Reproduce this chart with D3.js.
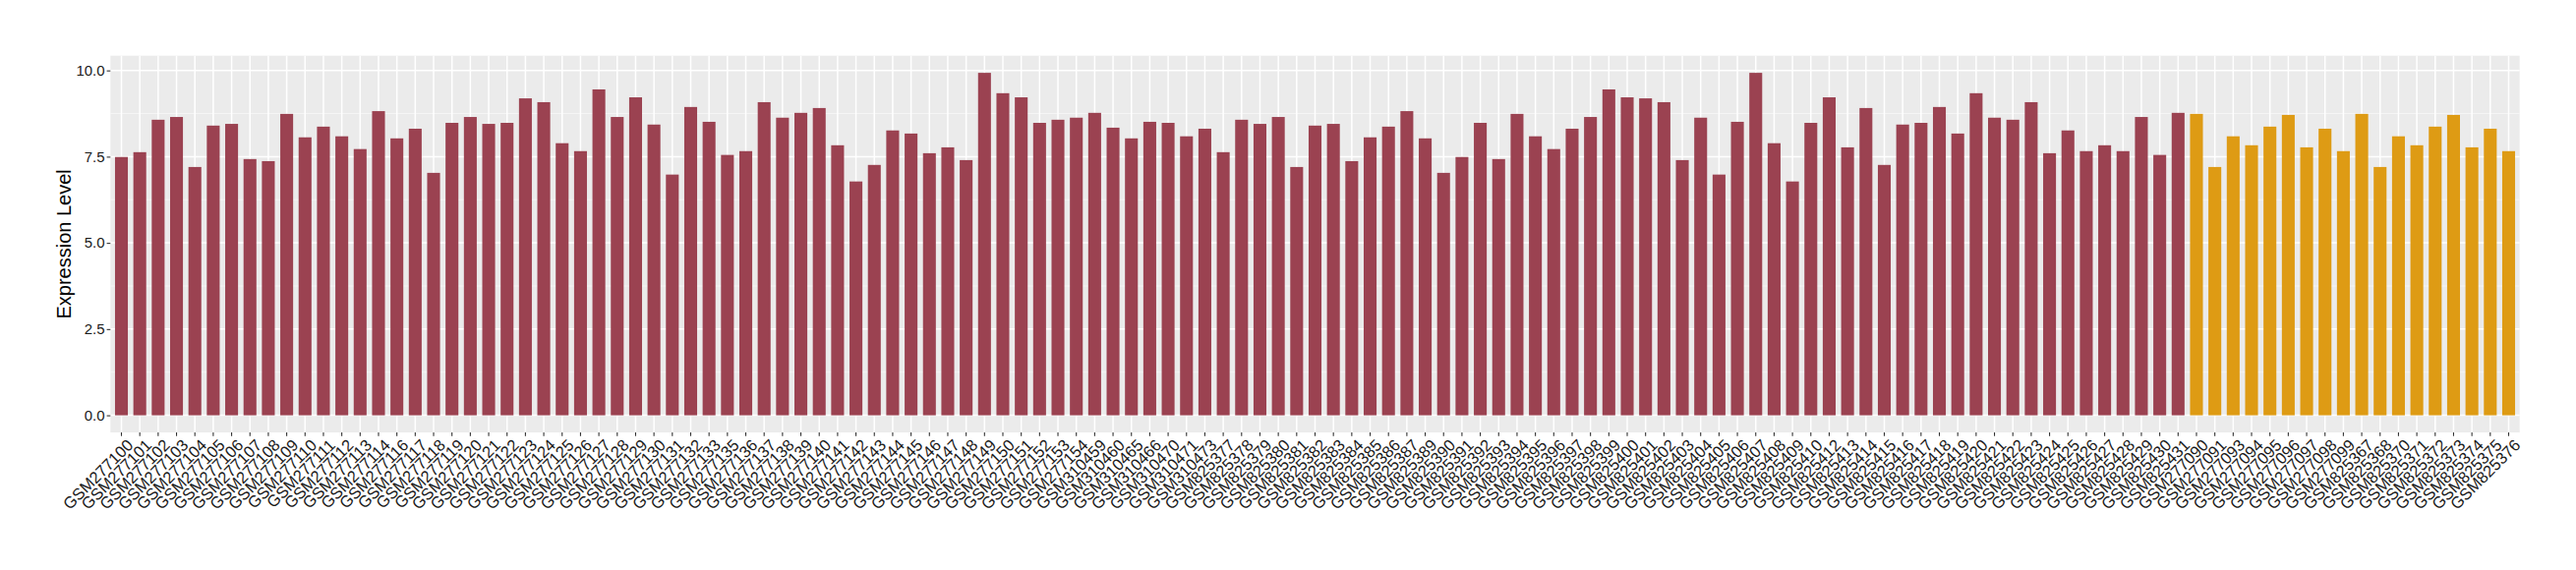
<!DOCTYPE html>
<html>
<head>
<meta charset="utf-8">
<script src="https://cdn.jsdelivr.net/npm/d3@7"></script>
<style>
  html, body { margin: 0; padding: 0; background: #ffffff; }
  svg { display: block; }
  text { font-family: "Liberation Sans", Arial, Helvetica, sans-serif; }
</style>
</head>
<body>
<svg id="chart" width="2620" height="580"></svg>
<script>
// ---- data ----
const samplesA = [
  "GSM277100","GSM277101","GSM277102","GSM277103","GSM277104","GSM277105","GSM277106","GSM277107","GSM277108","GSM277109",
  "GSM277110","GSM277111","GSM277112","GSM277113","GSM277114",
  "GSM277116","GSM277117","GSM277118","GSM277119","GSM277120","GSM277121","GSM277122","GSM277123","GSM277124","GSM277125",
  "GSM277126","GSM277127","GSM277128","GSM277129","GSM277130","GSM277131","GSM277132","GSM277133",
  "GSM277135","GSM277136","GSM277137","GSM277138","GSM277139","GSM277140","GSM277141","GSM277142","GSM277143","GSM277144",
  "GSM277145","GSM277146","GSM277147","GSM277148","GSM277149","GSM277150","GSM277151","GSM277152","GSM277153","GSM277154",
  "GSM310459","GSM310460","GSM310465","GSM310466","GSM310470","GSM310471","GSM310473",
  "GSM825377","GSM825378","GSM825379","GSM825380","GSM825381","GSM825382","GSM825383","GSM825384","GSM825385","GSM825386","GSM825387",
  "GSM825389","GSM825390","GSM825391","GSM825392","GSM825393","GSM825394","GSM825395","GSM825396","GSM825397","GSM825398",
  "GSM825399","GSM825400","GSM825401","GSM825402","GSM825403","GSM825404","GSM825405","GSM825406","GSM825407","GSM825408",
  "GSM825409","GSM825410",
  "GSM825412","GSM825413","GSM825414","GSM825415","GSM825416","GSM825417","GSM825418","GSM825419","GSM825420","GSM825421",
  "GSM825422","GSM825423","GSM825424","GSM825425","GSM825426","GSM825427","GSM825428","GSM825429","GSM825430","GSM825431"
];
const valuesA = [
  7.49,7.63,8.57,8.65,7.20,8.40,8.45,7.43,7.37,8.74,
  8.06,8.37,8.09,7.72,8.82,
  8.03,8.31,7.03,8.48,8.65,8.45,8.48,9.19,9.08,7.89,
  7.66,9.45,8.65,9.22,8.43,6.98,8.94,8.51,
  7.55,7.66,9.08,8.63,8.77,8.91,7.83,6.78,7.26,8.26,
  8.17,7.60,7.77,7.40,9.93,9.34,9.22,8.48,8.57,8.63,
  8.77,8.34,8.03,8.51,8.48,8.09,8.31,
  7.63,8.57,8.45,8.65,7.20,8.40,8.45,7.37,8.06,8.37,8.82,
  8.03,7.03,7.49,8.48,7.43,8.74,8.09,7.72,8.31,8.65,
  9.45,9.22,9.19,9.08,7.40,8.63,6.98,8.51,9.93,7.89,
  6.78,8.48,
  9.22,7.77,8.91,7.26,8.43,8.48,8.94,8.17,9.34,8.63,
  8.57,9.08,7.60,8.26,7.66,7.83,7.66,8.65,7.55,8.77
];
const samplesB = [
  "GSM277090","GSM277091","GSM277093","GSM277094","GSM277095","GSM277096","GSM277097","GSM277098","GSM277099",
  "GSM825367","GSM825368","GSM825370","GSM825371","GSM825372","GSM825373","GSM825374","GSM825375","GSM825376"
];
const valuesB = [
  8.74,7.20,8.09,7.83,8.37,8.71,7.77,8.31,7.66,
  8.74,7.20,8.09,7.83,8.37,8.71,7.77,8.31,7.66
];
const yTicks = [0, 2.5, 5, 7.5, 10];
const yMinorTicks = [1.25, 3.75, 6.25, 8.75];
const yTitle = "Expression Level";
const colorA = "#9B4251";
const colorB = "#DE9B14";

// ---- build ----
const rows = samplesA.map((s, i) => ({ sample: s, value: valuesA[i], color: colorA }))
  .concat(samplesB.map((s, i) => ({ sample: s, value: valuesB[i], color: colorB })));

const svg = d3.select("#chart");
const panel = { left: 112.3, right: 2562.7, top: 56.7, bottom: 440 };

const x = d3.scaleBand()
  .domain(rows.map(d => d.sample))
  .range([panel.left, panel.right])
  .paddingInner(0.3)
  .paddingOuter(0.25);

const yMax = d3.max(rows, d => d.value);
const y = d3.scaleLinear()
  .domain([-0.05 * yMax, yMax * 1.05])
  .range([panel.bottom, panel.top]);

// panel background
svg.append("rect")
  .attr("x", panel.left).attr("y", panel.top)
  .attr("width", panel.right - panel.left).attr("height", panel.bottom - panel.top)
  .attr("fill", "#EBEBEB");

// minor horizontal grid
svg.append("g").selectAll("line").data(yMinorTicks).join("line")
  .attr("x1", panel.left).attr("x2", panel.right)
  .attr("y1", d => y(d)).attr("y2", d => y(d))
  .attr("stroke", "#F7F7F7").attr("stroke-width", 0.8);

// major horizontal grid
svg.append("g").selectAll("line").data(yTicks).join("line")
  .attr("x1", panel.left).attr("x2", panel.right)
  .attr("y1", d => y(d)).attr("y2", d => y(d))
  .attr("stroke", "#FFFFFF").attr("stroke-width", 1.5);

// vertical grid
svg.append("g").selectAll("line").data(rows).join("line")
  .attr("x1", d => x(d.sample) + x.bandwidth() / 2).attr("x2", d => x(d.sample) + x.bandwidth() / 2)
  .attr("y1", panel.top).attr("y2", panel.bottom)
  .attr("stroke", "#FFFFFF").attr("stroke-width", 1.5);

// bars
svg.append("g").selectAll("rect").data(rows).join("rect")
  .attr("x", d => x(d.sample))
  .attr("width", x.bandwidth())
  .attr("y", d => y(d.value))
  .attr("height", d => y(0) - y(d.value))
  .attr("fill", d => d.color);

// y axis
const yAxis = d3.axisLeft(y).tickValues(yTicks).tickFormat(d3.format(".1f")).tickSize(3.7).tickPadding(2);
const gy = svg.append("g").attr("transform", `translate(${panel.left},0)`).call(yAxis);
gy.select(".domain").remove();
gy.selectAll(".tick line").attr("stroke", "#333333").attr("stroke-width", 1.1);
gy.selectAll(".tick text").attr("fill", "#1A1A1A").attr("font-size", 15)
  .attr("font-family", "'Liberation Sans', Arial, sans-serif");

// x axis
const xAxis = d3.axisBottom(x).tickSize(3.7).tickPadding(0);
const gx = svg.append("g").attr("transform", `translate(0,${panel.bottom})`).call(xAxis);
gx.select(".domain").remove();
gx.selectAll(".tick line").attr("stroke", "#333333").attr("stroke-width", 1.1);
gx.selectAll(".tick text")
  .attr("fill", "#1A1A1A").attr("font-size", 16.5)
  .attr("font-family", "'Liberation Sans', Arial, sans-serif")
  .attr("text-anchor", "end")
  .attr("dy", "0.68em")
  .attr("x", 0).attr("y", 0)
  .attr("transform", "translate(5,6) rotate(-45)");

// y title
svg.append("text")
  .attr("transform", `translate(72,${(panel.top + panel.bottom) / 2}) rotate(-90)`)
  .attr("text-anchor", "middle")
  .attr("font-size", 20)
  .attr("fill", "#000000")
  .text(yTitle);
</script>
</body>
</html>
